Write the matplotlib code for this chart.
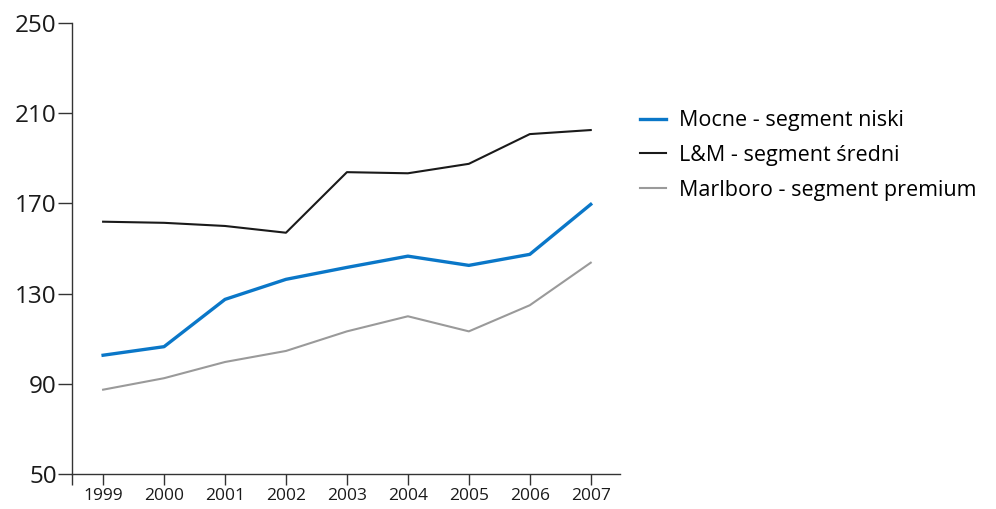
import numpy as np
import matplotlib.pyplot as plt

plt.rcParams['font.family'] = ['Open Sans', 'DejaVu Sans']

# dane
years = [1999, 2000, 2001, 2002, 2003, 2004, 2005, 2006, 2007]
mocne = [102.6, 106.4, 127.4, 136.3, 141.6, 146.6, 142.5, 147.4, 169.6]
lm = [161.9, 161.4, 160.0, 157.0, 183.9, 183.4, 187.6, 200.8, 202.6]
marlboro = [87.3, 92.4, 99.6, 104.5, 113.2, 119.9, 113.2, 124.8, 143.7]
labels = ['Mocne - segment niski', 'L&M - segment \u015bredni', 'Marlboro - segment premium']
yticks = [50, 90, 130, 170, 210, 250]

fig = plt.figure(figsize=(9.96, 5.09), dpi=100)
ax = fig.add_axes([0.0723, 0.0694, 0.5502, 0.8848])

l1, = ax.plot(years, mocne, color='#0a77c8', lw=2.4)
l2, = ax.plot(years, lm, color='#1a1a1a', lw=1.5)
l3, = ax.plot(years, marlboro, color='#9a9a9a', lw=1.5)

ax.set_xlim(1998.49, 2007.48)
ax.set_ylim(50, 250)
ax.set_yticks(yticks)
ax.set_xticks(years)
ax.set_xticks([1998.49], minor=True)
ax.tick_params(axis='x', which='minor', length=8, width=1, color='#333333')

for s in ['top', 'right']:
    ax.spines[s].set_visible(False)
for s in ['left', 'bottom']:
    ax.spines[s].set_color('#333333')
    ax.spines[s].set_linewidth(1)

ax.tick_params(axis='y', length=10, width=1, color='#333333', labelsize=17.5, pad=1, labelcolor='#1a1a1a')
ax.tick_params(axis='x', which='major', length=8, width=1, color='#333333', labelsize=12.5, pad=2, labelcolor='#1a1a1a')

fig.legend([l1, l2, l3], labels, loc='upper left', bbox_to_anchor=(0.643, 0.783),
           frameon=False, fontsize=15.5, handlelength=1.2, handletextpad=0.6,
           labelspacing=0.63, borderaxespad=0, borderpad=0)

fig.savefig('out.png', dpi=100)
